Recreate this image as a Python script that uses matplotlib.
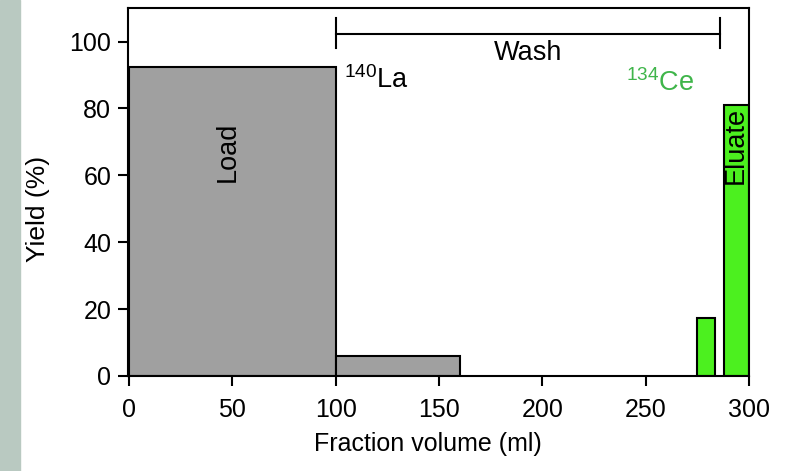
import matplotlib.pyplot as plt
from matplotlib.patches import Rectangle

plt.rcParams['font.family'] = ['Liberation Sans', 'DejaVu Sans']

# fractions: left edge, width, yield (%)
la_left = [0, 100]
la_width = [100, 60]
la_yield = [92.5, 6]

ce_left = [275, 288]
ce_width = [8.5, 12]
ce_yield = [17.3, 81]

wash_start, wash_end = 100, 286

gray = '#a0a0a0'
green = '#4cf01f'
text_green = '#3fb54a'

fig = plt.figure(figsize=(7.87, 4.71), dpi=100)
# strip of photo background on the left edge
fig.patches.append(Rectangle((0, 0), 0.025, 1, transform=fig.transFigure,
                             color='#b9c9c1', zorder=0))
ax = fig.add_axes([0.1626, 0.2017, 0.789, 0.781])

ax.bar(la_left, la_yield, width=la_width, align='edge', color=gray,
       edgecolor='black', linewidth=1.5)
ax.bar(ce_left, ce_yield, width=ce_width, align='edge', color=green,
       edgecolor='black', linewidth=1.5)

# wash bracket
ax.plot([wash_start, wash_end], [102.3, 102.3], color='black', lw=1.5)
for xe in (wash_start, wash_end):
    ax.plot([xe, xe], [98, 107], color='black', lw=1.5)

fs = 19.5
ax.text(193, 96.5, 'Wash', ha='center', va='center', fontsize=fs)
ax.text(104, 88.5, r'$^{\mathregular{140}}$La', ha='left', va='center', fontsize=fs)
ax.text(257, 87.5, r'$^{\mathregular{134}}$Ce', ha='center', va='center',
        fontsize=fs, color=text_green)
ax.text(48, 67, 'Load', rotation=90, ha='center', va='center', fontsize=fs)
ax.text(293.5, 69, 'Eluate', rotation=90, ha='center', va='center', fontsize=fs)

ax.set_xlim(-0.5, 300)
ax.set_ylim(0, 110)
ax.set_xticks([0, 50, 100, 150, 200, 250, 300])
ax.set_yticks([0, 20, 40, 60, 80, 100])
ax.tick_params(direction='out', length=7, width=1.5, labelsize=18, pad=5)
ax.tick_params(axis='x', pad=9)
for s in ax.spines.values():
    s.set_linewidth(1.5)
ax.set_xlabel('Fraction volume (ml)', fontsize=18)
ax.set_ylabel('Yield (%)', fontsize=19)
ax.xaxis.label.set_va('center')
ax.yaxis.label.set_va('center')
ax.xaxis.set_label_coords(0.483, -0.185)
ax.yaxis.set_label_coords(-0.145, 0.454)

fig.savefig('out.png', dpi=100)
